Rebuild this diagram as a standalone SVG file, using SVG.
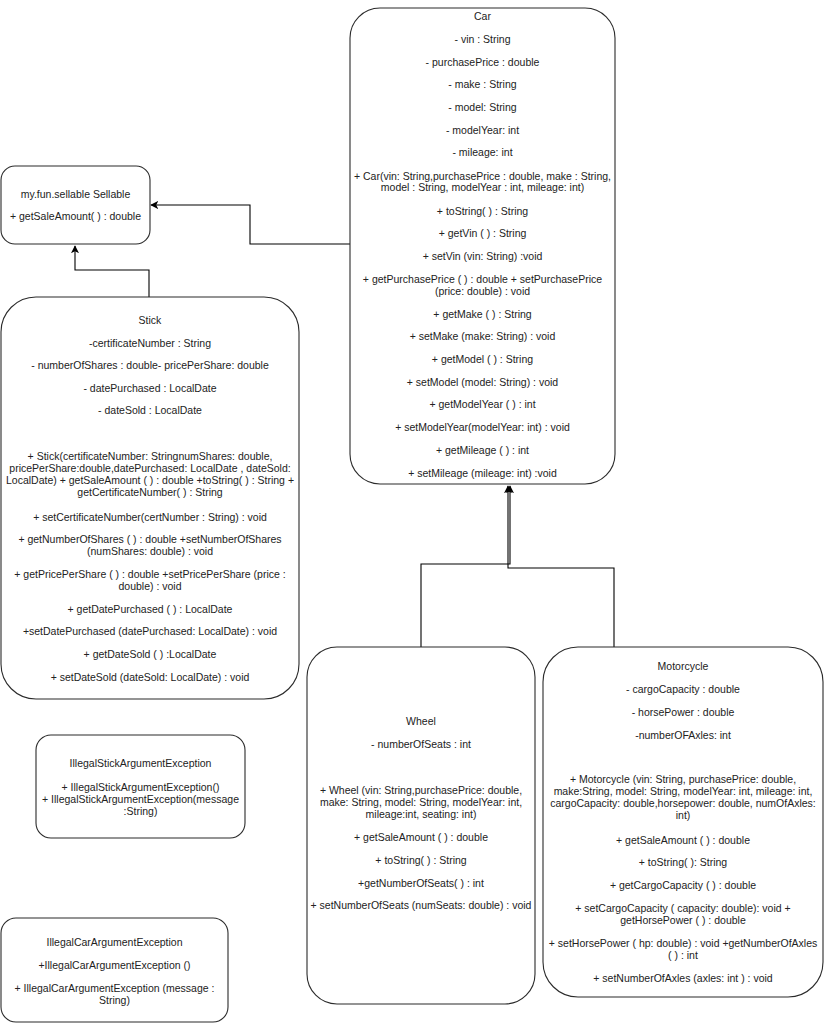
<svg xmlns="http://www.w3.org/2000/svg" width="824" height="1024" viewBox="0 0 824 1024">
<style>
.box{fill:#fff;stroke:#2b2b2b;stroke-width:1.1}
.t{font-family:"Liberation Sans",Arial,sans-serif;font-size:10.5px;fill:#222;text-anchor:middle}
.c{fill:none;stroke:#000;stroke-width:1.1}
</style>
<defs>
<marker id="arr" viewBox="0 0 10 10" refX="9" refY="5" markerWidth="8" markerHeight="8" markerUnits="userSpaceOnUse" orient="auto">
<path d="M0,0 L10,5 L0,10 L2.5,5 Z" fill="#000"/>
</marker>
</defs>
<rect width="824" height="1024" fill="#fff"/>
<g id="connectors">
<polyline class="c" points="350,244 250,244 250,205 151,205" marker-end="url(#arr)"/>
<polyline class="c" points="149,297 149,270 75,270 75,246" marker-end="url(#arr)"/>
<polyline class="c" points="421,647 421,564 510,564 510,486" marker-end="url(#arr)"/>
<polyline class="c" points="614,647 614,568 508,568 508,486" marker-end="url(#arr)"/>
</g>
<g id="car">
<rect class="box" x="350" y="8" width="265" height="476" rx="30" ry="30"/>
<text class="t" x="482.5" y="19.7">Car</text>
<text class="t" x="482.5" y="42.7">- vin : String</text>
<text class="t" x="482.5" y="65.7">- purchasePrice : double</text>
<text class="t" x="482.5" y="87.7">- make : String</text>
<text class="t" x="482.5" y="110.7">- model: String</text>
<text class="t" x="482.5" y="133.7">- modelYear: int</text>
<text class="t" x="482.5" y="155.7">- mileage: int</text>
<text class="t" x="482.5" y="179.7">+ Car(vin: String,purchasePrice : double, make : String,</text>
<text class="t" x="482.5" y="191.2">model : String, modelYear : int, mileage: int)</text>
<text class="t" x="482.5" y="214.7">+ toString( ) : String</text>
<text class="t" x="482.5" y="236.7">+ getVin ( ) : String</text>
<text class="t" x="482.5" y="259.7">+ setVin (vin: String) :void</text>
<text class="t" x="482.5" y="282.7">+ getPurchasePrice ( ) : double + setPurchasePrice</text>
<text class="t" x="482.5" y="294.7">(price: double) : void</text>
<text class="t" x="482.5" y="317.7">+ getMake ( ) : String</text>
<text class="t" x="482.5" y="339.7">+ setMake (make: String) : void</text>
<text class="t" x="482.5" y="362.7">+ getModel ( ) : String</text>
<text class="t" x="482.5" y="385.7">+ setModel (model: String) : void</text>
<text class="t" x="482.5" y="407.7">+ getModelYear ( ) : int</text>
<text class="t" x="482.5" y="430.7">+ setModelYear(modelYear: int) : void</text>
<text class="t" x="482.5" y="453.7">+ getMileage ( ) : int</text>
<text class="t" x="482.5" y="476.7">+ setMileage (mileage: int) :void</text>
</g>
<g id="sellable">
<rect class="box" x="1" y="166" width="149" height="78" rx="14" ry="14"/>
<text class="t" x="75.5" y="197.7">my.fun.sellable Sellable</text>
<text class="t" x="75.5" y="219.7">+ getSaleAmount( ) : double</text>
</g>
<g id="stick">
<rect class="box" x="1" y="297" width="298" height="402" rx="35" ry="35"/>
<text class="t" x="150" y="323.7">Stick</text>
<text class="t" x="150" y="346.7">-certificateNumber : String</text>
<text class="t" x="150" y="368.7">- numberOfShares : double- pricePerShare: double</text>
<text class="t" x="150" y="391.7">- datePurchased : LocalDate</text>
<text class="t" x="150" y="413.7">- dateSold : LocalDate</text>
<text class="t" x="150" y="459.7">+ Stick(certificateNumber: StringnumShares: double,</text>
<text class="t" x="150" y="471.7">pricePerShare:double,datePurchased: LocalDate , dateSold:</text>
<text class="t" x="150" y="483.7">LocalDate) + getSaleAmount ( ) : double +toString( ) : String +</text>
<text class="t" x="150" y="495.7">getCertificateNumber( ) : String</text>
<text class="t" x="150" y="520.7">+ setCertificateNumber(certNumber : String) : void</text>
<text class="t" x="150" y="542.7">+ getNumberOfShares ( ) : double +setNumberOfShares</text>
<text class="t" x="150" y="554.7">(numShares: double) : void</text>
<text class="t" x="150" y="577.7">+ getPricePerShare ( ) : double +setPricePerShare (price :</text>
<text class="t" x="150" y="589.7">double) : void</text>
<text class="t" x="150" y="612.7">+ getDatePurchased ( ) : LocalDate</text>
<text class="t" x="150" y="634.7">+setDatePurchased (datePurchased: LocalDate) : void</text>
<text class="t" x="150" y="657.7">+ getDateSold ( ) :LocalDate</text>
<text class="t" x="150" y="680.7">+ setDateSold (dateSold: LocalDate) : void</text>
</g>
<g id="wheel">
<rect class="box" x="307" y="647" width="228" height="357" rx="30" ry="30"/>
<text class="t" x="421" y="724.7">Wheel</text>
<text class="t" x="421" y="747.7">- numberOfSeats : int</text>
<text class="t" x="421" y="793.7">+ Wheel (vin: String,purchasePrice: double,</text>
<text class="t" x="421" y="805.7">make: String, model: String, modelYear: int,</text>
<text class="t" x="421" y="817.7">mileage:int, seating: int)</text>
<text class="t" x="421" y="840.7">+ getSaleAmount ( ) : double</text>
<text class="t" x="421" y="863.7">+ toString( ) : String</text>
<text class="t" x="421" y="886.7">+getNumberOfSeats( ) : int</text>
<text class="t" x="421" y="908.7">+ setNumberOfSeats (numSeats: double) : void</text>
</g>
<g id="motorcycle">
<rect class="box" x="543" y="647" width="280" height="350" rx="35" ry="35"/>
<text class="t" x="683" y="669.7">Motorcycle</text>
<text class="t" x="683" y="692.7">- cargoCapacity : double</text>
<text class="t" x="683" y="715.7">- horsePower : double</text>
<text class="t" x="683" y="738.7">-numberOFAxles: int</text>
<text class="t" x="683" y="782.7">+ Motorcycle (vin: String, purchasePrice: double,</text>
<text class="t" x="683" y="794.7">make:String, model: String, modelYear: int, mileage: int,</text>
<text class="t" x="683" y="806.7">cargoCapacity: double,horsepower: double, numOfAxles:</text>
<text class="t" x="683" y="818.7">int)</text>
<text class="t" x="683" y="843.7">+ getSaleAmount ( ) : double</text>
<text class="t" x="683" y="865.7">+ toString( ): String</text>
<text class="t" x="683" y="888.7">+ getCargoCapacity ( ) : double</text>
<text class="t" x="683" y="911.7">+ setCargoCapacity ( capacity: double): void +</text>
<text class="t" x="683" y="923.7">getHorsePower ( ) : double</text>
<text class="t" x="683" y="946.7">+ setHorsePower ( hp: double) : void +getNumberOfAxles</text>
<text class="t" x="683" y="958.7">( ) : int</text>
<text class="t" x="683" y="981.7">+ setNumberOfAxles (axles: int ) : void</text>
</g>
<g id="illegalStick">
<rect class="box" x="36" y="735" width="209" height="103" rx="15" ry="15"/>
<text class="t" x="140.5" y="766.7">IllegalStickArgumentException</text>
<text class="t" x="140.5" y="790.7">+ IllegalStickArgumentException()</text>
<text class="t" x="140.5" y="802.7">+ IllegalStickArgumentException(message</text>
<text class="t" x="140.5" y="814.7">:String)</text>
</g>
<g id="illegalCar">
<rect class="box" x="1" y="918" width="227" height="104" rx="15" ry="15"/>
<text class="t" x="114.5" y="945.7">IllegalCarArgumentException</text>
<text class="t" x="114.5" y="968.7">+IllegalCarArgumentException ()</text>
<text class="t" x="114.5" y="991.7">+ IllegalCarArgumentException (message :</text>
<text class="t" x="114.5" y="1003.7">String)</text>
</g>
</svg>
